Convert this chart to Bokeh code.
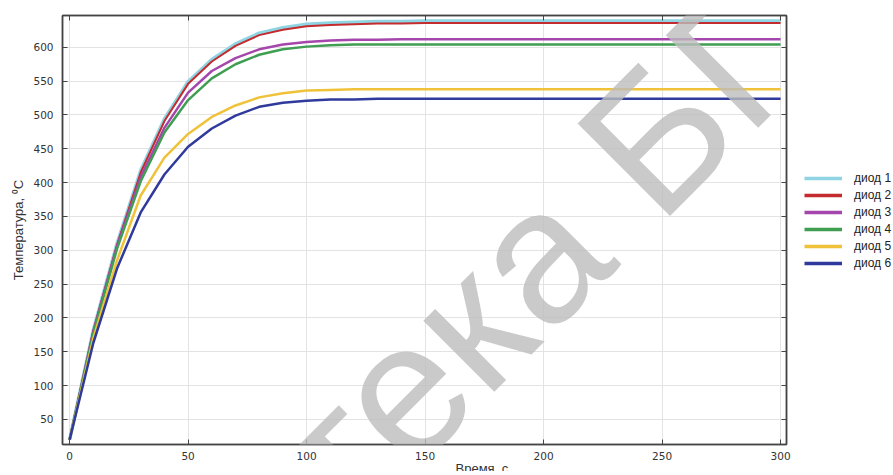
from bokeh.plotting import figure
from bokeh.models import (Range1d, LinearAxis, SingleIntervalTicker, Legend, LegendItem, Label, Grid, Title)
from bokeh.layouts import row
from bokeh.embed import file_html
from bokeh.resources import INLINE
import math

time_s = [0, 10, 20, 30, 40, 50, 60, 70, 80, 90, 100, 110, 120, 130, 140, 150,
          160, 170, 180, 190, 200, 210, 220, 230, 240, 250, 260, 270, 280, 290, 300]
diod1 = [20, 182, 310, 418, 494, 549, 582, 605, 621, 629, 634, 636, 637, 638, 638, 639,
         639, 639, 639, 639, 639, 639, 639, 639, 639, 639, 639, 639, 639, 639, 639]
diod2 = [20, 181, 308, 415, 491, 546, 579, 602, 618, 626, 631, 633, 634, 635, 635, 636,
         636, 636, 636, 636, 636, 636, 636, 636, 636, 636, 636, 636, 636, 636, 636]
diod3 = [20, 180, 306, 408, 481, 533, 565, 584, 597, 604, 608, 610, 611, 611, 612, 612,
         612, 612, 612, 612, 612, 612, 612, 612, 612, 612, 612, 612, 612, 612, 612]
diod4 = [20, 177, 302, 402, 474, 522, 554, 575, 589, 597, 601, 603, 604, 604, 604, 604,
         604, 604, 604, 604, 604, 604, 604, 604, 604, 604, 604, 604, 604, 604, 604]
diod5 = [20, 170, 285, 381, 437, 472, 497, 514, 526, 532, 536, 537, 538, 538, 538, 538,
         538, 538, 538, 538, 538, 538, 538, 538, 538, 538, 538, 538, 538, 538, 538]
diod6 = [20, 163, 273, 356, 412, 453, 480, 499, 512, 518, 521, 523, 523, 524, 524, 524,
         524, 524, 524, 524, 524, 524, 524, 524, 524, 524, 524, 524, 524, 524, 524]

series = [
    ("диод 1", diod1, "#8fd4e2", 3.5),
    ("диод 2", diod2, "#c42b2e", 2.0),
    ("диод 3", diod3, "#a446ac", 2.5),
    ("диод 4", diod4, "#3f9e52", 2.5),
    ("диод 5", diod5, "#f0c23a", 2.5),
    ("диод 6", diod6, "#2f3a9c", 2.5),
]

x_label = "Время, с"
y_label = "Температура, \u2070C"
watermark = "Библиотека БГУ"

p = figure(frame_width=724, frame_height=429, output_backend="svg", toolbar_location=None,
           x_range=Range1d(-3, 302.5), y_range=Range1d(13, 647),
           min_border_left=62, min_border_top=15, min_border_bottom=0, min_border_right=8,
           x_axis_type=None, y_axis_type=None)
p.background_fill_color = "white"
p.border_fill_color = "white"
p.outline_line_color = "#555555"
p.outline_line_width = 1.5

xt = SingleIntervalTicker(interval=50)
yt = SingleIntervalTicker(interval=50)

def style_axis(ax, labels=True):
    ax.axis_line_color = "#444444"
    ax.axis_line_width = 1.5
    ax.major_tick_in = 5
    ax.major_tick_out = 0
    ax.major_tick_line_color = "#444444"
    ax.minor_tick_line_color = None
    ax.major_label_text_font = "DejaVu Sans"
    if labels:
        ax.major_label_text_font_size = "10.5px"
        ax.major_label_text_color = "#333333"
        ax.major_label_standoff = 5
    else:
        ax.major_label_text_font_size = "1px"
        ax.major_label_text_color = None
        ax.major_label_standoff = 0

xb = LinearAxis(ticker=xt)
style_axis(xb)
xb.major_label_standoff = 3
p.add_layout(xb, "below")

p.add_layout(Title(text=x_label, align="left", offset=393, standoff=-8,
                   text_font="Liberation Sans", text_font_size="13px",
                   text_font_style="normal", text_color="#333333"), "below")

yl = LinearAxis(ticker=yt, axis_label=y_label)
style_axis(yl)
yl.axis_label_text_font = "Liberation Sans"
yl.axis_label_text_font_size = "13px"
yl.axis_label_text_font_style = "normal"
yl.axis_label_text_color = "#333333"
yl.axis_label_standoff = 4
p.add_layout(yl, "left")

xa = LinearAxis(ticker=xt)
style_axis(xa, labels=False)
p.add_layout(xa, "above")

yr = LinearAxis(ticker=yt)
style_axis(yr, labels=False)
p.add_layout(yr, "right")

p.xgrid.visible = False
p.ygrid.visible = False
p.add_layout(Grid(dimension=0, ticker=xt, grid_line_color="#e3e3e3", grid_line_width=1))
p.add_layout(Grid(dimension=1, ticker=yt, grid_line_color="#e3e3e3", grid_line_width=1))

for name, vals, color, w in series:
    p.line(time_s, vals, line_color=color, line_width=w)

p.add_layout(Label(x=119, y=18, text=watermark, angle=45 * math.pi / 180,
                   text_align="center", text_baseline="middle",
                   text_font="Liberation Sans", text_font_size="190px",
                   text_color="#bdbdbd", text_alpha=0.8))

# legend panel to the right of the plot (same series, drawn outside its visible range)
pl = figure(width=99, height=460, output_backend="svg", toolbar_location=None,
            x_range=Range1d(1000, 1001), y_range=Range1d(0, 1),
            min_border=0, x_axis_type=None, y_axis_type=None)
pl.outline_line_color = None
pl.xgrid.visible = False
pl.ygrid.visible = False
items = []
for name, vals, color, w in series:
    r = pl.line(time_s, vals, line_color=color, line_width=3.5)
    items.append(LegendItem(label=name, renderers=[r]))
legend = Legend(items=items, location=(10, 163), glyph_width=38, glyph_height=14,
                label_height=14, spacing=3, label_standoff=12, padding=0, margin=0,
                border_line_color=None, background_fill_alpha=0,
                label_text_font="Liberation Sans", label_text_font_size="12px",
                label_text_color="#222222")
pl.add_layout(legend)

open("out.html", "w").write(file_html(row(p, pl), INLINE))
